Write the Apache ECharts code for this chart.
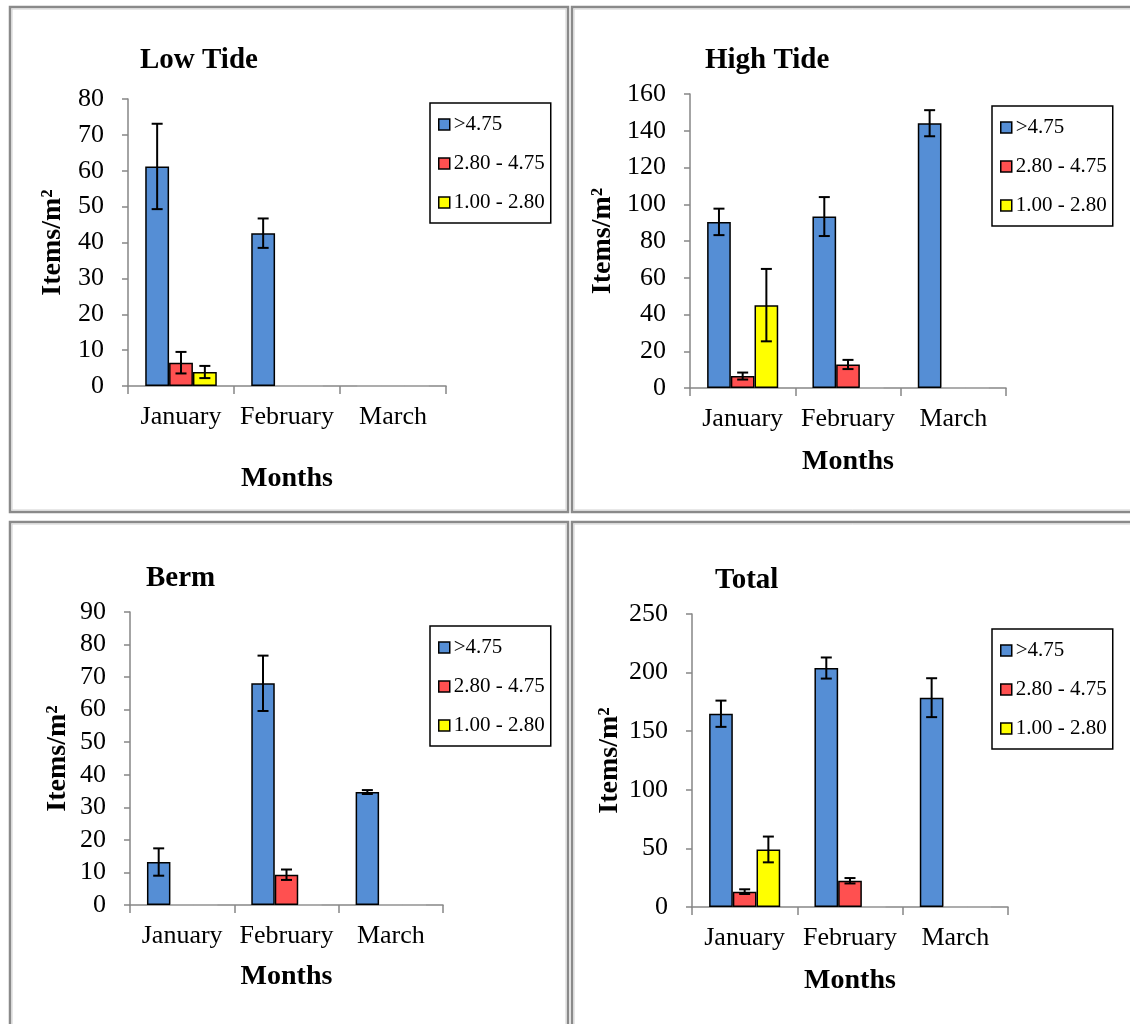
<!DOCTYPE html>
<html>
<head>
<meta charset="utf-8">
<script src="https://cdn.jsdelivr.net/npm/echarts@6/dist/echarts.min.js"></script>
<style>
html,body{margin:0;padding:0;background:#fff;}
#chart{width:1130px;height:1024px;}
</style>
</head>
<body>
<div id="chart"></div>
<script>
// ---- data ----
const categories = ['January', 'February', 'March'];
const seriesNames = ['>4.75', '2.80 - 4.75', '1.00 - 2.80'];
const seriesColors = ['#558ED5', '#FF5050', '#FFFF00'];
const panelTitles = ['Low Tide', 'High Tide', 'Berm', 'Total'];

// means per size class: [>4.75], [2.80-4.75], [1.00-2.80], each over Jan/Feb/Mar
const lowTideMean = [[61.2, 42.6, 0], [6.5, 0, 0], [3.9, 0, 0]];
const lowTideErr  = [[11.9, 4.1, 0], [3.0, 0, 0], [1.7, 0, 0]];
const highTideMean = [[90.4, 93.3, 144.1], [6.5, 12.8, 0], [45.1, 0, 0]];
const highTideErr  = [[7.2, 10.6, 7.1], [1.9, 2.5, 0], [19.7, 0, 0]];
const bermMean = [[13.2, 68.1, 34.7], [0, 9.3, 0], [0, 0, 0]];
const bermErr  = [[4.2, 8.5, 0.6], [0, 1.6, 0], [0, 0, 0]];
const totalMean = [[164.9, 203.9, 178.6], [13.1, 22.4, 0], [49.1, 0, 0]];
const totalErr  = [[11.2, 9.0, 16.6], [2.0, 2.3, 0], [11.0, 0, 0]];

const yMax = [80, 160, 90, 250];
const yInterval = [10, 20, 10, 50];

const panelMeans = [lowTideMean, highTideMean, bermMean, totalMean];
const panelErrs = [lowTideErr, highTideErr, bermErr, totalErr];

// ---- layout ----
const FONT = 'Liberation Serif';
const AXIS_COLOR = '#868686';
const BAR_FRAC = 0.225;
const grids = [
  {left: 128, top: 99, width: 318, height: 287},
  {left: 690, top: 94, width: 316, height: 294},
  {left: 130, top: 612, width: 313, height: 293},
  {left: 692, top: 614, width: 316, height: 293}
];
const titlePos = [[140, 46], [705, 46], [146, 564], [715, 566]];
const legendPos = [[430, 103], [992, 106], [430, 626], [992, 629]];
const xNameGap = [79, 60, 58, 60];
const yNameGap = [61, 73, 58, 68];

const option = {
  animation: false,
  backgroundColor: '#fff',
  textStyle: {fontFamily: FONT, color: '#000'},
  title: [],
  legend: [],
  grid: [],
  xAxis: [],
  yAxis: [],
  series: [],
  graphic: []
};

function errRender(params, api) {
  const cat = api.value(0), mean = api.value(1), err = api.value(2), idx = api.value(3);
  if (!err && !mean) return null;
  const c = api.coord([cat, mean]);
  const band = api.size([1, 0])[0];
  const barW = band * BAR_FRAC;
  const x = c[0] + (idx - 1) * barW;
  const yt = api.coord([cat, mean + err])[1];
  const yb = api.coord([cat, mean - err])[1];
  const half = 5.5;
  const st = {stroke: '#000', lineWidth: 2};
  return {
    type: 'group',
    children: [
      {type: 'line', shape: {x1: x, y1: yt, x2: x, y2: yb}, style: st},
      {type: 'line', shape: {x1: x - half, y1: yt, x2: x + half, y2: yt}, style: st},
      {type: 'line', shape: {x1: x - half, y1: yb, x2: x + half, y2: yb}, style: st}
    ]
  };
}

for (let p = 0; p < 4; p++) {
  option.grid.push(Object.assign({containLabel: false}, grids[p]));
  option.title.push({
    text: panelTitles[p], left: titlePos[p][0], top: titlePos[p][1], padding: 0,
    textStyle: {fontFamily: FONT, fontSize: 29, fontWeight: 'bold', color: '#000'}
  });
  option.legend.push({
    data: seriesNames, orient: 'vertical', left: legendPos[p][0], top: legendPos[p][1],
    padding: [11, 6, 10, 8], itemGap: 18, itemWidth: 11, itemHeight: 11, icon: 'rect',
    borderColor: '#000', borderWidth: 1.5, backgroundColor: '#fff',
    selectedMode: false,
    itemStyle: {borderColor: '#000', borderWidth: 1.5},
    textStyle: {fontFamily: FONT, fontSize: 21, color: '#000', padding: [0, 0, 0, -1]}
  });
  option.xAxis.push({
    type: 'category', gridIndex: p, data: categories,
    name: 'Months', nameLocation: 'middle', nameGap: xNameGap[p],
    nameTextStyle: {fontFamily: FONT, fontSize: 28, fontWeight: 'bold', color: '#000'},
    axisLine: {show: true, lineStyle: {color: AXIS_COLOR, width: 1.5}},
    axisTick: {show: true, length: 8, lineStyle: {color: AXIS_COLOR, width: 1.5}},
    axisLabel: {interval: 0, hideOverlap: false, fontFamily: FONT, fontSize: 26, color: '#000', margin: 18},
    splitLine: {show: false}
  });
  option.yAxis.push({
    type: 'value', gridIndex: p, min: 0, max: yMax[p], interval: yInterval[p],
    name: 'Items/m²', nameLocation: 'middle', nameGap: yNameGap[p],
    nameTextStyle: {fontFamily: FONT, fontSize: 28, fontWeight: 'bold', color: '#000'},
    axisLine: {show: true, lineStyle: {color: AXIS_COLOR, width: 1.5}},
    axisTick: {show: true, length: 6, lineStyle: {color: AXIS_COLOR, width: 1.5}},
    axisLabel: {fontFamily: FONT, fontSize: 26, color: '#000', margin: 24},
    splitLine: {show: false}
  });
  for (let s = 0; s < 3; s++) {
    option.series.push({
      type: 'bar', name: seriesNames[s], xAxisIndex: p, yAxisIndex: p,
      data: panelMeans[p][s].map(function (v) {
        return v === 0 ? {value: v, itemStyle: {borderColor: '#b0b0b0', borderWidth: 1}} : v;
      }),
      barWidth: (BAR_FRAC * 100) + '%', barGap: '0%',
      itemStyle: {color: seriesColors[s], borderColor: '#000', borderWidth: 1.5},
      emphasis: {disabled: true}
    });
  }
  const errData = [];
  for (let s = 0; s < 3; s++) {
    for (let c = 0; c < 3; c++) {
      errData.push([c, panelMeans[p][s][c], panelErrs[p][s][c], s]);
    }
  }
  option.series.push({
    type: 'custom', name: 'err' + p, xAxisIndex: p, yAxisIndex: p,
    renderItem: errRender, data: errData, z: 10,
    encode: {x: 0, y: 1}, silent: true
  });
}

// panel borders
const panels = [
  {x: 10, y: 7, width: 558, height: 505},
  {x: 572, y: 7, width: 620, height: 505},
  {x: 10, y: 522, width: 558, height: 560},
  {x: 572, y: 522, width: 620, height: 560}
];
panels.forEach(function (r) {
  option.graphic.push({type: 'rect', shape: r, z: -1, silent: true,
    style: {fill: null, stroke: '#8a8a8a', lineWidth: 2.5}});
  option.graphic.push({type: 'rect', shape: {x: r.x + 2, y: r.y + 2, width: r.width - 4, height: r.height - 4},
    z: -1, silent: true, style: {fill: null, stroke: '#d0d0d0', lineWidth: 1}});
});

const chart = echarts.init(document.getElementById('chart'), null, {renderer: 'canvas'});
chart.setOption(option);
</script>
</body>
</html>
